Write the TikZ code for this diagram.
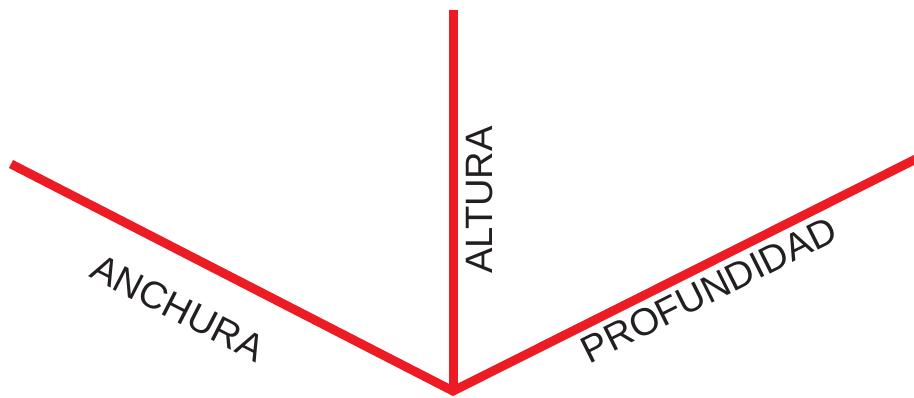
\documentclass[tikz,border=0pt]{standalone}
\usepackage{fontspec}
\setmainfont{Liberation Sans}
\usetikzlibrary{positioning}
\definecolor{axisred}{RGB}{237,28,36}
\definecolor{labelgray}{RGB}{35,31,32}
\tikzset{
  dim-axis/.style={draw=axisred, line width=6.75pt, line join=miter},
  dim-label/.style={text=labelgray, inner sep=0pt, font=\fontsize{28.6}{30}\selectfont}
}

\begin{document}
\begin{tikzpicture}[x=0.75pt, y=-0.75pt]
  \useasboundingbox (0,0) rectangle (914,398);

  % Axis end points
  \coordinate (origin) at (453,391);
  \coordinate (top) at (453,10);
  \coordinate (left) at (11,164);
  \coordinate (right) at (916,159);

  % Axes
  \draw[dim-axis] (left) -- (origin) -- (right);
  \draw[dim-axis] (origin) -- (top);

  % Labels
  \node[dim-label, rotate=-27.2] (anchura) at (178,308) {ANCHURA};
  \node[dim-label, rotate=90] (altura) at (480,200) {ALTURA};
  \node[dim-label, rotate=26.6] (profundidad) at (709,290) {PROFUNDIDAD};
\end{tikzpicture}
\end{document}
